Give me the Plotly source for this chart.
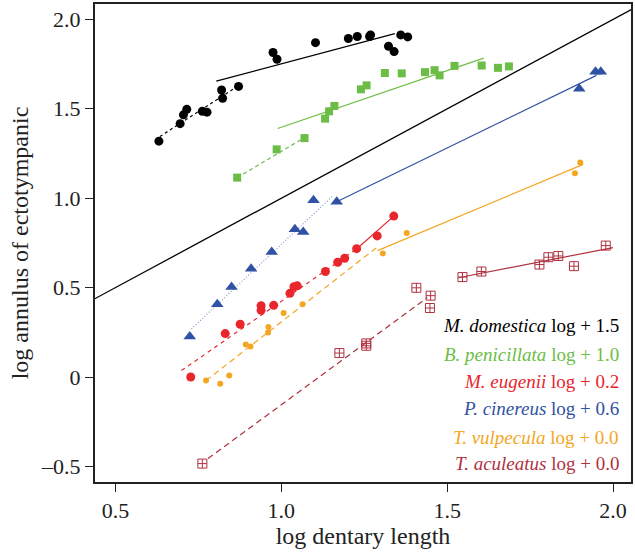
import plotly.graph_objects as go

FONT = "Liberation Serif"

# ---------------- data (plotted values, offsets already applied) ----------------
dom_x = [0.631, 0.695, 0.705, 0.715, 0.762, 0.776, 0.820, 0.823, 0.871, 0.975, 0.987,
         1.103, 1.202, 1.229, 1.266, 1.269, 1.323, 1.340, 1.360, 1.381]
dom_y = [1.319, 1.417, 1.466, 1.497, 1.486, 1.481, 1.605, 1.559, 1.625, 1.815, 1.777,
         1.870, 1.893, 1.904, 1.904, 1.913, 1.850, 1.820, 1.913, 1.902]
dom_fit1_x = [0.634, 0.854]
dom_fit1_y = [1.345, 1.609]
dom_fit2_x = [0.804, 1.342]
dom_fit2_y = [1.655, 1.920]

pen_x = [0.867, 0.986, 1.070, 1.132, 1.144, 1.160, 1.240, 1.257, 1.312, 1.363, 1.433,
         1.462, 1.477, 1.522, 1.604, 1.653, 1.686]
pen_y = [1.115, 1.273, 1.336, 1.445, 1.486, 1.516, 1.609, 1.631, 1.700, 1.698, 1.705,
         1.716, 1.687, 1.740, 1.742, 1.729, 1.737]
pen_fit1_x = [0.867, 1.069]
pen_fit1_y = [1.115, 1.338]
pen_fit2_x = [0.989, 1.610]
pen_fit2_y = [1.390, 1.783]

eug_x = [0.727, 0.831, 0.876, 0.939, 0.939, 0.977, 1.026, 1.038, 1.048, 1.133, 1.170,
         1.191, 1.227, 1.289, 1.339]
eug_y = [0.000, 0.243, 0.295, 0.399, 0.373, 0.401, 0.468, 0.505, 0.510, 0.590, 0.642,
         0.664, 0.718, 0.789, 0.900]
eug_fit1_x = [0.699, 1.227]
eug_fit1_y = [0.036, 0.716]
eug_fit2_x = [1.227, 1.339]
eug_fit2_y = [0.716, 0.900]

cin_x = [0.724, 0.807, 0.850, 0.909, 0.971, 1.041, 1.066, 1.097, 1.167, 1.898, 1.947, 1.963]
cin_y = [0.226, 0.407, 0.503, 0.605, 0.699, 0.826, 0.811, 0.989, 0.980, 1.612, 1.707, 1.707]
cin_fit1_x = [0.729, 1.153]
cin_fit1_y = [0.269, 1.009]
cin_fit2_x = [1.167, 1.950]
cin_fit2_y = [0.980, 1.687]

vul_x = [0.773, 0.816, 0.843, 0.893, 0.907, 0.960, 0.961, 1.007, 1.064, 1.306, 1.378, 1.885, 1.901]
vul_y = [-0.020, -0.037, 0.009, 0.182, 0.171, 0.249, 0.280, 0.358, 0.407, 0.691, 0.806, 1.139, 1.199]
vul_fit1_x = [0.773, 1.286]
vul_fit1_y = [-0.020, 0.722]
vul_fit2_x = [1.290, 1.910]
vul_fit2_y = [0.707, 1.189]

acu_x = [0.762, 1.175, 1.256, 1.256, 1.407, 1.450, 1.448, 1.546, 1.603, 1.778, 1.805,
         1.835, 1.882, 1.978]
acu_y = [-0.484, 0.134, 0.188, 0.175, 0.499, 0.455, 0.386, 0.559, 0.590, 0.629, 0.670,
         0.677, 0.620, 0.735]
acu_fit1_x = [0.779, 1.440]
acu_fit1_y = [-0.456, 0.444]
acu_fit2_x = [1.534, 2.000]
acu_fit2_y = [0.555, 0.724]

ref_x = [0.40, 2.10]
ref_y = [0.40, 2.10]

species = ["M. domestica", "B. penicillata", "M. eugenii", "P. cinereus", "T. vulpecula", "T. aculeatus"]
offsets = ["1.5", "1.0", "0.2", "0.6", "0.0", "0.0"]
legend_y = [0.288, 0.124, -0.026, -0.176, -0.337, -0.482]

x_ticks = [0.5, 1.0, 1.5, 2.0]
x_ticktext = ["0.5", "1.0", "1.5", "2.0"]
y_ticks = [-0.5, 0, 0.5, 1.0, 1.5, 2.0]
y_ticktext = ["\u20130.5", "0", "0.5", "1.0", "1.5", "2.0"]

# ---------------- styles ----------------
C_BLACK = "#000000"
C_GREEN = "#6cbd45"
C_RED = "#e8262c"
C_BLUE = "#2f52a4"
C_ORANGE = "#f4a623"
C_DRED = "#b0313f"

fig = go.Figure()

def line(x, y, color, dash, width=1.2):
    fig.add_trace(go.Scatter(x=x, y=y, mode="lines", line=dict(color=color, width=width, dash=dash),
                             hoverinfo="skip", showlegend=False))

def pts(x, y, color, symbol, size, open_=False):
    if open_:
        marker = dict(symbol=symbol, size=size, color=color, line=dict(color=color, width=1))
    else:
        marker = dict(symbol=symbol, size=size, color=color, line=dict(width=0))
    fig.add_trace(go.Scatter(x=x, y=y, mode="markers", marker=marker, showlegend=False))

line(ref_x, ref_y, C_BLACK, "solid", 1.3)

line(dom_fit1_x, dom_fit1_y, C_BLACK, "3px,3px")
line(dom_fit2_x, dom_fit2_y, C_BLACK, "solid")
line(pen_fit1_x, pen_fit1_y, C_GREEN, "4px,3px")
line(pen_fit2_x, pen_fit2_y, C_GREEN, "solid")
line(eug_fit1_x, eug_fit1_y, C_RED, "4px,4px")
line(eug_fit2_x, eug_fit2_y, C_RED, "solid")
line(cin_fit1_x, cin_fit1_y, "#8a9cc8", "1px,2px")
line(cin_fit2_x, cin_fit2_y, C_BLUE, "solid")
line(vul_fit1_x, vul_fit1_y, C_ORANGE, "6px,4px")
line(vul_fit2_x, vul_fit2_y, C_ORANGE, "solid")
line(acu_fit1_x, acu_fit1_y, C_DRED, "6px,4px")
line(acu_fit2_x, acu_fit2_y, C_DRED, "solid")

pts(dom_x, dom_y, C_BLACK, "circle", 9)
pts(pen_x, pen_y, C_GREEN, "square", 8)
pts(eug_x, eug_y, C_RED, "circle", 9)
pts(cin_x, cin_y, C_BLUE, "triangle-up", 11)
pts(vul_x, vul_y, C_ORANGE, "circle", 6)
pts(acu_x, acu_y, C_DRED, "square-cross-open", 9, open_=True)

colors = [C_BLACK, C_GREEN, C_RED, C_BLUE, C_ORANGE, C_DRED]
for name, off, yy, col in zip(species, offsets, legend_y, colors):
    fig.add_annotation(x=2.024, y=yy, xref="x", yref="y", xanchor="right", yanchor="middle",
                       text=f"<i>{name}</i> log + {off}", showarrow=False,
                       font=dict(family=FONT, size=19, color=col), align="right")

axis_common = dict(showline=True, linecolor="#222222", linewidth=2, mirror=True,
                   ticks="outside", ticklen=8, tickwidth=1.2, tickcolor="#222222",
                   showgrid=False, zeroline=False,
                   tickfont=dict(family=FONT, size=22, color="#222222"))

fig.update_xaxes(range=[0.4384, 2.054], tickvals=x_ticks, ticktext=x_ticktext,
                 title=dict(text="log dentary length", font=dict(family=FONT, size=24, color="#222222"),
                            standoff=2),
                 **axis_common)
fig.update_yaxes(range=[-0.587, 2.086], tickvals=y_ticks, ticktext=y_ticktext,
                 title=dict(text="log annulus of ectotympanic", font=dict(family=FONT, size=24, color="#222222"),
                            standoff=6),
                 **axis_common)

fig.update_layout(width=635, height=552, margin=dict(l=95, r=3, t=2, b=70),
                  paper_bgcolor="white", plot_bgcolor="white", showlegend=False,
                  font=dict(family=FONT))

fig.write_html("out.html", config={"displayModeBar": False},
               post_script="document.body.style.margin='0';document.body.style.padding='0';")
